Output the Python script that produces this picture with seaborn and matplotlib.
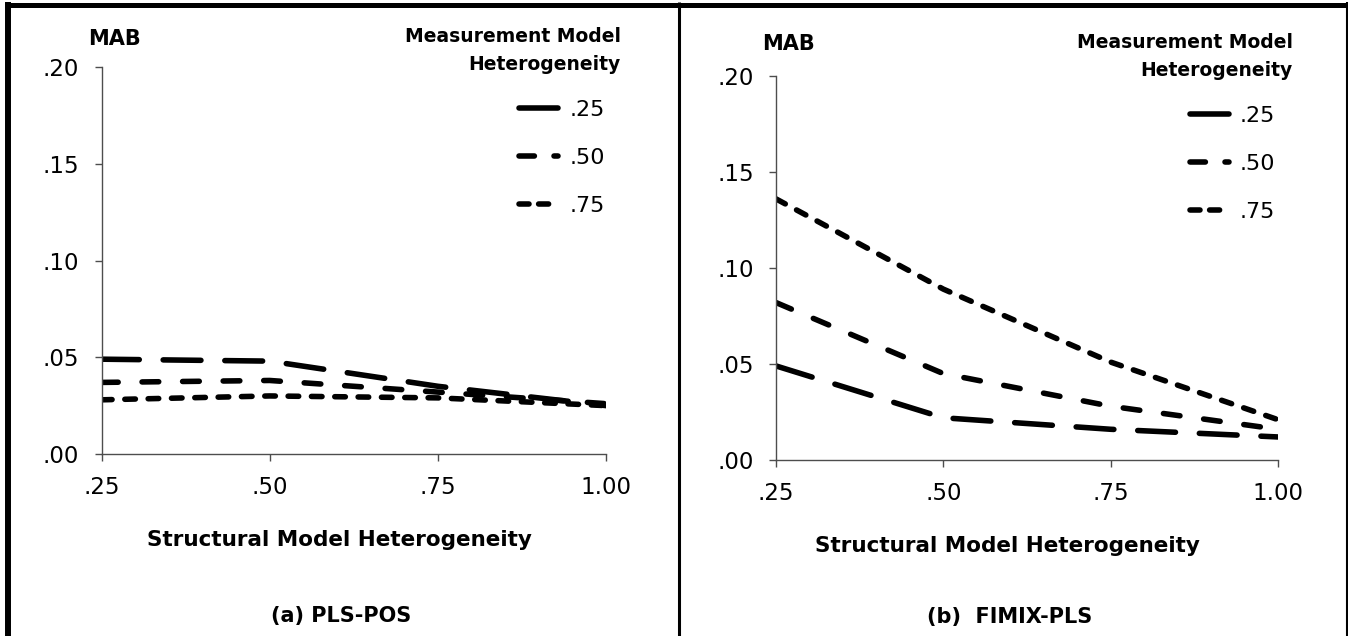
import pandas as pd
import seaborn as sns
import matplotlib.pyplot as plt
from matplotlib.lines import Line2D

# structural model heterogeneity (x) and measurement model levels
structural = [0.25, 0.50, 0.75, 1.00]
levels = [".25", ".50", ".75"]

# MAB
pls_pos = {
    ".25": [0.049, 0.048, 0.035, 0.025],
    ".50": [0.037, 0.038, 0.032, 0.026],
    ".75": [0.028, 0.030, 0.029, 0.025],
}
fimix_pls = {
    ".25": [0.049, 0.022, 0.016, 0.012],
    ".50": [0.082, 0.045, 0.028, 0.016],
    ".75": [0.136, 0.089, 0.051, 0.021],
}

x_ticks = [0.25, 0.50, 0.75, 1.00]
x_ticklabels = [".25", ".50", ".75", "1.00"]
y_ticks = [0.00, 0.05, 0.10, 0.15, 0.20]
y_ticklabels = [".00", ".05", ".10", ".15", ".20"]


def to_long(values):
    rows = []
    for lev in levels:
        for xv, yv in zip(structural, values[lev]):
            rows.append({"Structural": xv, "MAB": yv, "Measurement": lev})
    return pd.DataFrame(rows)


sns.set_theme(style="white")
# the source figure is stretched sideways, DejaVu's wide glyphs fit it best
plt.rcParams["font.family"] = ["DejaVu Sans"]
plt.rcParams["text.color"] = "black"

W, H = 1348, 636
fig = plt.figure(figsize=(W / 100, H / 100), dpi=100)


def fx(px):
    return px / W


def fy(py):
    return 1 - py / H


LW = 4.0
dash_map = {".25": (6.8, 4.3), ".50": (3.0, 4.3), ".75": (1.9, 2.3)}
# the legend keys are drawn shorter, so they get their own dash patterns
legend_dashes = {".25": None, ".50": (2.77, 3.53), ".75": (1.8, 1.73)}
spine_col = "#4d4d4d"


def legend_handles():
    handles = []
    for lev in levels:
        h = Line2D([], [], color="black", lw=LW, solid_capstyle="round",
                   dash_capstyle="round")
        if legend_dashes[lev] is not None:
            h.set_dashes(legend_dashes[lev])
        handles.append(h)
    return handles


def draw_panel(rect, values, mab_xy, title_xy, leg_xy, xlabel_xy, caption_xy, caption):
    left, top, right, bottom = rect
    ax = fig.add_axes([fx(left), fy(bottom), fx(right - left), (bottom - top) / H])
    sns.lineplot(
        data=to_long(values), x="Structural", y="MAB", style="Measurement",
        style_order=levels, dashes=dash_map, color="black", linewidth=LW,
        dash_capstyle="round", legend=False, ax=ax,
    )
    ax.set_xlim(0.25, 1.00)
    ax.set_ylim(0.0, 0.20)
    ax.set_xticks(x_ticks)
    ax.set_xticklabels(x_ticklabels)
    ax.set_yticks(y_ticks)
    ax.set_yticklabels(y_ticklabels)
    ax.set_xlabel("")
    ax.set_ylabel("")
    for side in ["top", "right"]:
        ax.spines[side].set_visible(False)
    for side in ["left", "bottom"]:
        ax.spines[side].set_color(spine_col)
        ax.spines[side].set_linewidth(1)
    ax.tick_params(axis="both", which="major", direction="out", length=5,
                   width=1, color=spine_col, labelsize=16.5, labelcolor="black")
    ax.tick_params(axis="y", left=True, pad=11)
    ax.tick_params(axis="x", bottom=True, pad=11)
    ax.set_facecolor("none")

    fig.text(fx(mab_xy[0]), fy(mab_xy[1]), "MAB", ha="center", va="baseline",
             fontsize=15, fontweight="bold")
    tx, ty1, ty2 = title_xy
    fig.text(fx(tx), fy(ty1), "Measurement Model", ha="right", va="baseline",
             fontsize=13.5, fontweight="bold")
    fig.text(fx(tx), fy(ty2), "Heterogeneity", ha="right", va="baseline",
             fontsize=13.5, fontweight="bold")
    ax.legend(legend_handles(), levels, loc="upper left",
              bbox_to_anchor=(fx(leg_xy[0]), fy(leg_xy[1])),
              bbox_transform=fig.transFigure, frameon=False, borderpad=0,
              borderaxespad=0, handlelength=1.77, handletextpad=0.5,
              labelspacing=1.25, fontsize=16, labelcolor="black")
    fig.text(fx(xlabel_xy[0]), fy(xlabel_xy[1]), "Structural Model Heterogeneity",
             ha="center", va="baseline", fontsize=15.5, fontweight="bold")
    fig.text(fx(caption_xy[0]), fy(caption_xy[1]), caption,
             ha="center", va="baseline", fontsize=15, fontweight="bold")
    return ax


draw_panel((101.5, 67, 606, 454), pls_pos, (114.5, 45), (621, 41.7, 70),
           (518.8, 100), (339.5, 546), (341, 622), "(a) PLS-POS")
draw_panel((776, 76, 1278, 460), fimix_pls, (789, 50), (1293, 48, 76),
           (1189.5, 106), (1007, 552), (1010, 623), "(b)  FIMIX-PLS")

# black frame around and between the two panels
frame = dict(color="black", transform=fig.transFigure, solid_capstyle="butt")
fig.add_artist(Line2D([fx(5), fx(1348)], [fy(4.5), fy(4.5)], lw=3.6, **frame))
fig.add_artist(Line2D([fx(8), fx(8)], [fy(2), fy(636)], lw=4.3, **frame))
fig.add_artist(Line2D([fx(678.5), fx(678.5)], [fy(2), fy(636)], lw=2.2, **frame))
fig.add_artist(Line2D([fx(1347), fx(1347)], [fy(2), fy(636)], lw=1.5, **frame))

fig.savefig("out.png", dpi=100, facecolor="white")
